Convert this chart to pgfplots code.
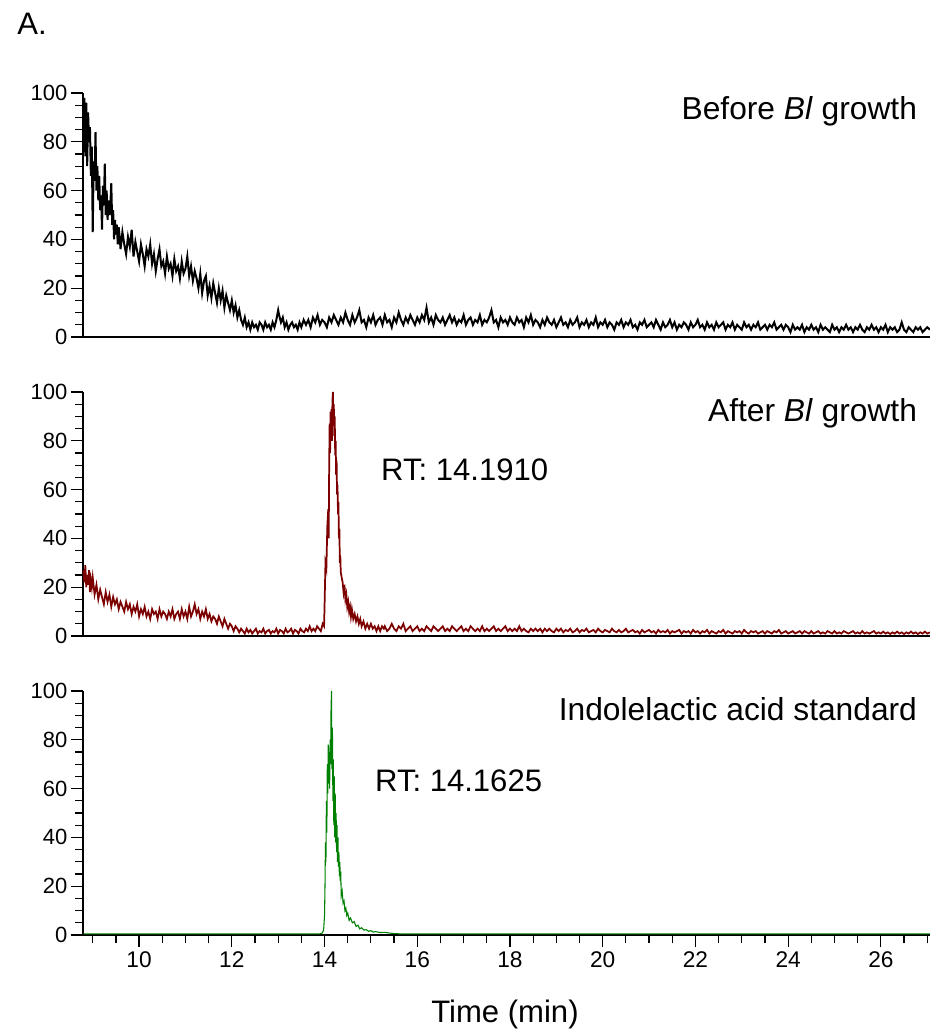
\documentclass[border=0pt]{standalone}
\usepackage{fontspec}
\setmainfont{Liberation Sans}
\usepackage{pgfplots}
\pgfplotsset{compat=1.18}

\definecolor{trace1}{RGB}{0,0,0}
\definecolor{trace2}{RGB}{125,0,0}
\definecolor{trace3}{RGB}{0,128,0}

\pgfplotsset{
  chrom/.style={
    scale only axis,
    width=635.25pt, height=183pt,
    xmin=8.79, xmax=27.06,
    ymin=0, ymax=100,
    axis lines*=left,
    axis line style={line width=1.1pt},
    ytick={0,20,...,100},
    minor ytick={5,10,...,95},
    tick align=outside,
    major tick length=9pt,
    minor tick length=6pt,
    every tick/.style={black, line width=0.9pt},
    /pgf/number format/assume math mode=true,
    yticklabel style={font=\fontsize{16.5}{19}\selectfont, inner sep=2.5pt},
    xticklabel style={font=\fontsize{17}{20}\selectfont},
    clip=false,
  },
}
\tikzset{
  title node/.style={anchor=base east, font=\fontsize{23.8}{28}\selectfont},
  rt node/.style={anchor=base west, font=\fontsize{23.3}{28}\selectfont},
}

\begin{document}
\begin{tikzpicture}
\useasboundingbox (-62.25pt,-520.5pt) rectangle (635.25pt,252.75pt);

% Before Bl growth
\begin{axis}[chrom, at={(0pt,0pt)}, anchor=south west, xtick=\empty]
\addplot[trace1, line width=1.5pt] coordinates {
(8.80,76)(8.82,98)(8.84,74)(8.86,96)(8.88,70)(8.90,92)(8.92,80)(8.94,86)(8.96,66)(8.98,78)
(9.00,43)(9.02,72)(9.04,64)(9.06,84)(9.08,60)(9.10,70)(9.12,56)(9.14,66)(9.16,52)(9.18,58)
(9.20,44)(9.22,62)(9.24,54)(9.26,71)(9.28,50)(9.30,60)(9.32,48)(9.34,56)(9.36,50)(9.38,54)
(9.40,63)(9.42,46)(9.44,52)(9.46,40)(9.48,48)(9.50,42)(9.52,46)(9.54,38)(9.56,45)(9.58,41)
(9.60,36)(9.64,43)(9.68,38)(9.72,34)(9.76,41)(9.80,37)(9.84,44)(9.88,33)(9.92,39)(9.96,35)
(10.00,31)(10.04,38)(10.08,34)(10.12,29)(10.16,36)(10.20,33)(10.24,38)(10.28,30)(10.32,34)(10.36,27)
(10.40,32)(10.44,36)(10.48,29)(10.52,31)(10.56,26)(10.60,33)(10.64,28)(10.68,30)(10.72,25)(10.76,32)
(10.80,27)(10.84,29)(10.88,24)(10.92,31)(10.96,26)(11.00,28)(11.04,33)(11.08,25)(11.12,29)(11.16,23)
(11.20,27)(11.24,24)(11.28,20)(11.32,26)(11.36,18)(11.40,23)(11.44,25)(11.48,17)(11.52,21)(11.56,16)
(11.60,22)(11.64,18)(11.68,14)(11.72,20)(11.76,15)(11.80,19)(11.84,12)(11.88,17)(11.92,14)(11.96,11)
(12.00,15)(12.04,10)(12.08,13)(12.12,8)(12.16,11)(12.20,7)(12.24,5)(12.28,8)(12.32,4)(12.36,6)
(12.40,3)(12.44,6)(12.48,4)(12.52,5)(12.56,3)(12.60,6)(12.64,5)(12.68,3)(12.72,6)(12.76,4)
(12.80,5)(12.84,3)(12.88,6)(12.92,4)(12.96,7)(13.00,11)(13.02,9)(13.06,6)(13.10,8)(13.14,4)
(13.18,6)(13.22,3)(13.26,5)(13.30,6)(13.34,4)(13.38,5)(13.42,3)(13.46,6)(13.50,4)(13.55,7)
(13.60,5)(13.65,7)(13.70,4)(13.75,8)(13.80,6)(13.85,9)(13.90,5)(13.95,7)(14.00,6)(14.05,4)
(14.10,8)(14.15,6)(14.20,9)(14.25,7)(14.30,5)(14.35,8)(14.40,6)(14.45,10)(14.50,7)(14.55,5)
(14.60,9)(14.65,6)(14.70,8)(14.75,11)(14.80,6)(14.85,7)(14.90,4)(14.95,8)(15.00,6)(15.05,9)
(15.10,5)(15.15,7)(15.20,8)(15.25,5)(15.30,9)(15.35,6)(15.40,7)(15.45,4)(15.50,8)(15.55,6)
(15.60,10)(15.65,7)(15.70,5)(15.75,8)(15.80,6)(15.85,9)(15.90,7)(15.95,5)(16.00,8)(16.05,6)
(16.10,9)(16.15,7)(16.20,12)(16.25,6)(16.30,8)(16.35,5)(16.40,9)(16.45,7)(16.50,6)(16.55,8)
(16.60,5)(16.65,7)(16.70,9)(16.75,6)(16.80,8)(16.85,5)(16.90,7)(16.95,6)(17.00,9)(17.05,5)
(17.10,7)(17.15,8)(17.20,5)(17.25,7)(17.30,6)(17.35,9)(17.40,5)(17.45,7)(17.50,6)(17.55,8)
(17.60,11)(17.65,6)(17.70,7)(17.75,4)(17.80,8)(17.85,6)(17.90,7)(17.95,5)(18.00,8)(18.05,6)
(18.10,5)(18.15,8)(18.20,6)(18.25,7)(18.30,4)(18.35,8)(18.40,6)(18.45,9)(18.50,5)(18.55,7)
(18.60,6)(18.65,4)(18.70,7)(18.75,5)(18.80,8)(18.85,6)(18.90,5)(18.95,7)(19.00,4)(19.05,6)
(19.10,8)(19.15,5)(19.20,6)(19.25,4)(19.30,7)(19.35,5)(19.40,6)(19.45,8)(19.50,4)(19.55,6)
(19.60,5)(19.65,7)(19.70,4)(19.75,6)(19.80,5)(19.85,8)(19.90,4)(19.95,6)(20.00,5)(20.05,7)
(20.10,4)(20.15,6)(20.20,5)(20.25,3)(20.30,6)(20.35,5)(20.40,7)(20.45,4)(20.50,6)(20.55,5)
(20.60,7)(20.65,4)(20.70,5)(20.75,3)(20.80,6)(20.85,5)(20.90,7)(20.95,4)(21.00,5)(21.05,6)
(21.10,4)(21.15,7)(21.20,5)(21.25,3)(21.30,6)(21.35,4)(21.40,5)(21.45,7)(21.50,4)(21.55,6)
(21.60,3)(21.65,5)(21.70,4)(21.75,6)(21.80,5)(21.85,3)(21.90,6)(21.95,4)(22.00,5)(22.05,7)
(22.10,4)(22.15,5)(22.20,3)(22.25,6)(22.30,4)(22.35,5)(22.40,3)(22.45,6)(22.50,4)(22.55,5)
(22.60,6)(22.65,3)(22.70,5)(22.75,4)(22.80,6)(22.85,3)(22.90,5)(22.95,4)(23.00,3)(23.05,6)
(23.10,4)(23.15,5)(23.20,3)(23.25,5)(23.30,4)(23.35,6)(23.40,3)(23.45,4)(23.50,5)(23.55,3)
(23.60,5)(23.65,4)(23.70,6)(23.75,3)(23.80,4)(23.85,5)(23.90,3)(23.95,5)(24.00,4)(24.05,2)
(24.10,5)(24.15,3)(24.20,4)(24.25,3)(24.30,5)(24.35,2)(24.40,4)(24.45,3)(24.50,5)(24.55,3)
(24.60,4)(24.65,2)(24.70,5)(24.75,3)(24.80,4)(24.85,3)(24.90,2)(24.95,5)(25.00,3)(25.05,4)
(25.10,2)(25.15,4)(25.20,3)(25.25,5)(25.30,3)(25.35,4)(25.40,2)(25.45,4)(25.50,3)(25.55,5)
(25.60,3)(25.65,2)(25.70,4)(25.75,3)(25.80,5)(25.85,3)(25.90,4)(25.95,2)(26.00,4)(26.05,3)
(26.10,5)(26.15,2)(26.20,4)(26.25,3)(26.30,4)(26.35,2)(26.40,3)(26.45,6)(26.50,3)(26.55,2)
(26.60,4)(26.65,3)(26.70,2)(26.75,4)(26.80,3)(26.85,4)(26.90,2)(26.95,3)(27.00,4)(27.06,3)
};
\node[title node] at (axis cs:26.88,89) {Before \textit{Bl} growth};
\end{axis}

% After Bl growth
\begin{axis}[chrom, at={(0pt,-224.25pt)}, anchor=south west, xtick=\empty]
\addplot[trace2, line width=1.3pt] coordinates {
(8.80,27)(8.82,22)(8.84,29)(8.86,20)(8.88,25)(8.90,21)(8.92,27)(8.94,18)(8.96,23)(8.98,20)
(9.00,24)(9.04,17)(9.08,21)(9.12,15)(9.16,19)(9.20,16)(9.24,13)(9.28,18)(9.32,14)(9.36,17)
(9.40,12)(9.44,16)(9.48,13)(9.52,15)(9.56,11)(9.60,14)(9.64,12)(9.68,10)(9.72,14)(9.76,11)
(9.80,13)(9.84,9)(9.88,12)(9.92,10)(9.96,13)(10.00,8)(10.04,11)(10.08,9)(10.12,12)(10.16,8)
(10.20,10)(10.24,7)(10.28,11)(10.32,9)(10.36,10)(10.40,7)(10.44,11)(10.48,8)(10.52,10)(10.56,9)
(10.60,7)(10.64,10)(10.68,8)(10.72,11)(10.76,7)(10.80,9)(10.84,10)(10.88,7)(10.92,11)(10.96,8)
(11.00,10)(11.04,7)(11.08,12)(11.12,8)(11.16,10)(11.20,13)(11.24,9)(11.28,11)(11.32,7)(11.36,10)
(11.40,8)(11.44,11)(11.48,7)(11.52,9)(11.56,6)(11.60,8)(11.64,7)(11.68,5)(11.72,8)(11.76,6)
(11.80,4)(11.84,7)(11.88,5)(11.92,3)(11.96,5)(12.00,4)(12.04,2)(12.08,4)(12.12,3)(12.16,1.5)
(12.20,3)(12.24,2)(12.28,1)(12.32,3)(12.36,1.5)(12.40,2.5)(12.44,1)(12.48,2)(12.52,3)(12.56,1)
(12.60,2)(12.64,1.5)(12.68,3)(12.72,1)(12.76,2)(12.80,2.5)(12.84,1)(12.88,2)(12.92,1.5)(12.96,3)
(13.00,1)(13.04,2.5)(13.08,2)(13.12,1)(13.16,3)(13.20,1.5)(13.24,2)(13.28,3)(13.32,1)(13.36,2.5)
(13.40,2)(13.44,1)(13.48,3)(13.52,2)(13.56,1.5)(13.60,3)(13.64,2)(13.68,4)(13.72,2)(13.76,3)
(13.80,2)(13.84,4)(13.88,3)(13.92,2)(13.96,5)(13.99,4)
(14.00,12)(14.02,30)(14.04,28)(14.06,45)(14.08,52)(14.09,40)(14.10,70)(14.11,87)(14.12,75)(14.13,92)
(14.14,85)(14.15,93)(14.16,80)(14.17,96)(14.18,100)(14.19,88)(14.20,95)(14.21,82)(14.22,90)(14.23,74)
(14.24,80)(14.25,66)(14.26,72)(14.27,58)(14.28,62)(14.29,50)(14.30,55)(14.31,40)(14.32,44)(14.33,30)
(14.34,33)(14.35,26)(14.37,24)(14.39,22)(14.41,18)(14.43,21)(14.45,15)(14.47,17)(14.49,12)(14.51,14)
(14.53,10)(14.55,12)(14.57,8)(14.59,11)(14.62,7)(14.65,9)(14.68,6)(14.71,8)(14.74,5)(14.77,7)
(14.80,4)(14.84,6)(14.88,3)(14.92,5)(14.96,3)(15.00,5)(15.04,3)(15.08,4)(15.12,2)(15.16,4)
(15.20,2)(15.24,4)(15.28,3)
(15.30,4)(15.35,2)(15.40,3)(15.45,5)(15.50,3)(15.55,2)(15.60,4)(15.65,3)(15.70,5)(15.75,2)
(15.80,3)(15.85,4)(15.90,2)(15.95,3)(16.00,4)(16.05,2)(16.10,3)(16.15,2)(16.20,4)(16.25,3)
(16.30,2)(16.35,4)(16.40,3)(16.45,2)(16.50,3)(16.55,4)(16.60,2)(16.65,3)(16.70,2)(16.75,4)
(16.80,3)(16.85,2)(16.90,3)(16.95,4)(17.00,2)(17.05,3)(17.10,2)(17.15,4)(17.20,3)(17.25,2)
(17.30,3)(17.35,2)(17.40,4)(17.45,2)(17.50,3)(17.55,2)(17.60,3)(17.65,4)(17.70,2)(17.75,3)
(17.80,2)(17.85,3)(17.90,4)(17.95,2)(18.00,3)(18.05,2)(18.10,3)(18.15,2)(18.20,4)(18.25,2)
(18.30,3)(18.35,2)(18.40,1.5)(18.45,3)(18.50,2)(18.55,3)(18.60,2)(18.65,3)(18.70,1.5)(18.75,3)
(18.80,2)(18.85,3)(18.90,2)(18.95,1.5)(19.00,3)(19.05,2)(19.10,3)(19.15,1.5)(19.20,2.5)(19.25,2)
(19.30,3)(19.35,1.5)(19.40,2)(19.45,3)(19.50,1.5)(19.55,2.5)(19.60,2)(19.65,3)(19.70,1.5)(19.75,2)
(19.80,2.5)(19.85,1.5)(19.90,3)(19.95,2)(20.00,1.5)(20.05,2.5)(20.10,2)(20.15,1.5)(20.20,3)(20.25,2)
(20.30,1.5)(20.35,2.5)(20.40,1.5)(20.45,2)(20.50,3)(20.55,1.5)(20.60,2)(20.65,2.5)(20.70,1.5)(20.75,2)
(20.80,1)(20.85,2.5)(20.90,1.5)(20.95,2)(21.00,2.5)(21.05,1.5)(21.10,2)(21.15,1)(21.20,2.5)(21.25,1.5)
(21.30,2)(21.35,1.5)(21.40,2.5)(21.45,1)(21.50,2)(21.55,1.5)(21.60,2)(21.65,2.5)(21.70,1)(21.75,2)
(21.80,1.5)(21.85,2)(21.90,1)(21.95,2.5)(22.00,1.5)(22.05,2)(22.10,1)(22.15,2)(22.20,1.5)(22.25,2.5)
(22.30,1)(22.35,2)(22.40,1.5)(22.45,1)(22.50,2)(22.55,1.5)(22.60,2.5)(22.65,1)(22.70,2)(22.75,1.5)
(22.80,1)(22.85,2)(22.90,1.5)(22.95,2)(23.00,1)(23.05,2.5)(23.10,1.5)(23.15,1)(23.20,2)(23.25,1.5)
(23.30,2)(23.35,1)(23.40,1.5)(23.45,2)(23.50,1)(23.55,2)(23.60,1.5)(23.65,1)(23.70,2)(23.75,1.5)
(23.80,2.5)(23.85,1)(23.90,1.5)(23.95,2)(24.00,1)(24.05,1.5)(24.10,2)(24.15,1)(24.20,1.5)(24.25,2)
(24.30,1)(24.35,2)(24.40,1.5)(24.45,1)(24.50,2)(24.55,1)(24.60,1.5)(24.65,2)(24.70,1)(24.75,1.5)
(24.80,1)(24.85,2)(24.90,1.5)(24.95,1)(25.00,2)(25.05,1)(25.10,1.5)(25.15,1)(25.20,2)(25.25,1.5)
(25.30,1)(25.35,1.5)(25.40,2)(25.45,1)(25.50,1.5)(25.55,1)(25.60,2)(25.65,1)(25.70,1.5)(25.75,1)
(25.80,1.5)(25.85,2)(25.90,1)(25.95,1.5)(26.00,1)(26.05,1.8)(26.10,1)(26.15,1.5)(26.20,0.8)(26.25,1.5)
(26.30,1)(26.35,1.8)(26.40,1)(26.45,1.5)(26.50,0.8)(26.55,1.5)(26.60,1)(26.65,1.8)(26.70,1)(26.75,1.5)
(26.80,0.8)(26.85,1.5)(26.90,1)(26.95,1.8)(27.00,1)(27.06,1.5)
};
\node[title node] at (axis cs:26.88,88) {After \textit{Bl} growth};
\node[rt node] at (axis cs:15.12,63.9) {RT: 14.1910};
\end{axis}

% Indolelactic acid standard
\begin{axis}[chrom, at={(0pt,-448.5pt)}, anchor=south west,
  xtick={10,12,...,26},
  minor xtick={9,9.5,...,27},
]
\addplot[trace3, line width=0.8pt] coordinates {
(8.80,0.5)(13.90,0.5)(13.95,0.8)(13.98,2)(14.00,8)(14.01,20)(14.02,38)(14.03,30)(14.04,55)(14.05,42)
(14.06,70)(14.07,58)(14.08,78)(14.09,62)(14.10,75)(14.11,60)(14.12,80)(14.13,70)(14.14,92)(14.15,100)
(14.16,68)(14.17,85)(14.18,55)(14.19,72)(14.20,45)(14.21,65)(14.22,40)(14.23,58)(14.24,38)(14.25,50)
(14.26,34)(14.27,45)(14.28,30)(14.29,40)(14.30,28)(14.31,34)(14.32,24)(14.33,30)(14.34,22)(14.35,26)
(14.36,16)(14.38,18)(14.40,13)(14.42,14)(14.44,10)(14.46,11)(14.48,8)(14.50,9)(14.53,6)(14.56,7)
(14.60,5)(14.64,5.5)(14.68,3.5)(14.72,4)(14.76,2.5)(14.80,3)(14.85,2)(14.90,2.2)(14.95,1.5)(15.00,1.8)
(15.05,1.2)(15.10,1.4)(15.20,1)(15.30,1.1)(15.40,0.8)(15.50,0.6)(15.60,0.5)(27.06,0.5)
};
\node[title node] at (axis cs:26.88,88) {Indolelactic acid standard};
\node[rt node] at (axis cs:14.99,58.7) {RT: 14.1625};
\end{axis}

\node[anchor=base west, font=\fontsize{23.3}{28}\selectfont] at (-52.7pt,226.5pt) {A.};
\node[anchor=base, font=\fontsize{23.3}{28}\selectfont] at (316.5pt,-513.75pt) {Time (min)};
\end{tikzpicture}
\end{document}
